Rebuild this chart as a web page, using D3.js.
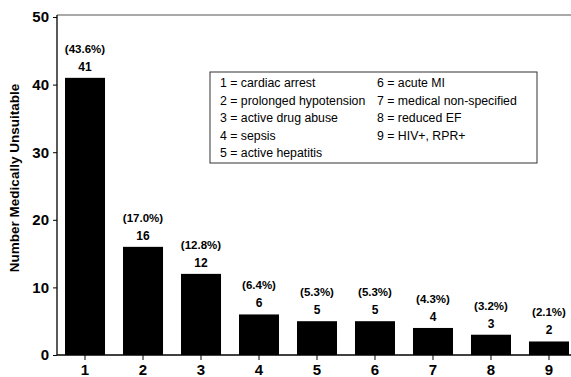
<!DOCTYPE html>
<html><head><meta charset="utf-8">
<script src="https://cdn.jsdelivr.net/npm/d3@7"></script>
<style>
body{margin:0;background:#fff;}
svg{display:block;font-family:"Liberation Sans",Arial,Helvetica,sans-serif;}
</style></head>
<body><svg id="c" width="571" height="377"></svg>
<script>
const categories = ["1","2","3","4","5","6","7","8","9"];
const counts = [41,16,12,6,5,5,4,3,2];
const percents = ["43.6%","17.0%","12.8%","6.4%","5.3%","5.3%","4.3%","3.2%","2.1%"];
const yTicks = [0,10,20,30,40,50];
const legendCol1 = ["1 = cardiac arrest","2 = prolonged hypotension","3 = active drug abuse","4 = sepsis","5 = active hepatitis"];
const legendCol2 = ["6 = acute MI","7 = medical non-specified","8 = reduced EF","9 = HIV+, RPR+"];
const yTitle = "Number Medically Unsuitable";

(function(){
const svg = d3.select("#c");
const mLeft = 57, mTop = 15, mBottom = 355, mRight = 577;
const x = d3.scaleBand().domain(categories).range([mLeft, mRight]).paddingInner(0.31).paddingOuter(0.138);
const y = d3.scaleLinear().domain([0,50]).range([mBottom, 17]);

svg.append("line").attr("x1",mLeft).attr("x2",571).attr("y1",mTop).attr("y2",mTop).attr("stroke","#555").attr("stroke-width",1.2);

svg.selectAll("rect.bar").data(counts).enter().append("rect")
  .attr("x",(d,i)=>x(categories[i])).attr("width",x.bandwidth())
  .attr("y",d=>y(d)).attr("height",d=>mBottom-y(d)).attr("fill","#000");

const yAxis = svg.append("g").attr("transform",`translate(${mLeft},0)`)
  .call(d3.axisLeft(y).tickValues(yTicks).tickSize(4).tickPadding(4));
yAxis.select(".domain").attr("d",`M0,${mTop}V${mBottom}`).attr("stroke","#000").attr("stroke-width",1.3);
yAxis.selectAll("text").attr("font-size",15).attr("font-weight","bold").attr("fill","#000").attr("font-family","inherit");

const xAxis = svg.append("g").attr("transform",`translate(0,${mBottom})`)
  .call(d3.axisBottom(x).tickSize(5).tickPadding(4));
xAxis.select(".domain").attr("d",`M${mLeft},0H571`).attr("stroke","#000").attr("stroke-width",1.3);
xAxis.selectAll("text").attr("font-size",15).attr("font-weight","bold").attr("fill","#000").attr("font-family","inherit");

svg.selectAll("text.val").data(counts).enter().append("text")
  .attr("x",(d,i)=>x(categories[i])+x.bandwidth()/2).attr("y",d=>y(d)-7)
  .attr("text-anchor","middle").attr("font-size",12).attr("font-weight","bold").text(d=>d);
svg.selectAll("text.pct").data(percents).enter().append("text")
  .attr("x",(d,i)=>x(categories[i])+x.bandwidth()/2).attr("y",(d,i)=>y(counts[i])-25)
  .attr("text-anchor","middle").attr("font-size",11.5).attr("font-weight","bold").text(d=>`(${d})`);

svg.append("text").attr("transform","translate(19,178) rotate(-90)")
  .attr("text-anchor","middle").attr("font-size",13.5).attr("font-weight","bold").text(yTitle);

svg.append("rect").attr("x",210).attr("y",72).attr("width",327).attr("height",91)
  .attr("fill","#fff").attr("stroke","#333").attr("stroke-width",1);
const rowY = i => 87 + i*17.5;
svg.selectAll("text.l1").data(legendCol1).enter().append("text")
  .attr("x",220).attr("y",(d,i)=>rowY(i)).attr("font-size",12.3).text(d=>d);
svg.selectAll("text.l2").data(legendCol2).enter().append("text")
  .attr("x",377).attr("y",(d,i)=>rowY(i)).attr("font-size",12.3).text(d=>d);
})();
</script></body></html>
